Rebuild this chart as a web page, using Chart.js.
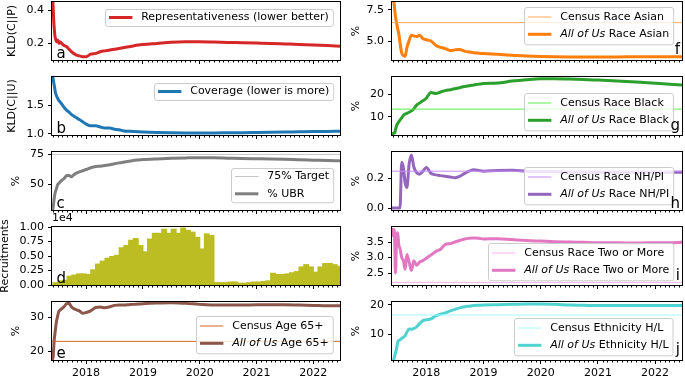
<!DOCTYPE html>
<html lang="en">
<head>
<meta charset="UTF-8">
<title>All of Us recruitment panels</title>
<script src="https://cdn.jsdelivr.net/npm/chart.js"></script>
<style>
    body {
        margin: 0;
        width: 685px;
        height: 380px;
        overflow: hidden;
        background: #ffffff;
        position: relative;
    }
    canvas {
        position: absolute;
    }
</style>
</head>
<body>
<script>
// time grid (decimal years), denser at the start where the curves are noisy
const t = [2017.40, 2017.41, 2017.42, 2017.43, 2017.44, 2017.45, 2017.46, 2017.48, 2017.50, 2017.52,
    2017.54, 2017.57, 2017.60, 2017.63, 2017.66, 2017.70, 2017.74, 2017.78, 2017.83, 2017.88,
    2017.94, 2018.00, 2018.08, 2018.17, 2018.25, 2018.33, 2018.42, 2018.50, 2018.58, 2018.67,
    2018.75, 2018.83, 2018.92, 2019.00, 2019.25, 2019.50, 2019.75, 2020.00, 2020.25, 2020.50,
    2020.75, 2021.00, 2021.25, 2021.50, 2021.75, 2022.00, 2022.25, 2022.47];
const xMin = 2017.40;
const xMax = 2022.47;
const yearTicks = [2018, 2019, 2020, 2021, 2022];

const kldP = [0.60, 0.50, 0.42, 0.34, 0.29, 0.25, 0.23, 0.21, 0.22, 0.20, 0.21, 0.20, 0.19, 0.185, 0.18,
    0.165, 0.15, 0.14, 0.13, 0.125, 0.12, 0.12, 0.135, 0.14, 0.15, 0.155, 0.16, 0.165, 0.17, 0.175,
    0.18, 0.185, 0.19, 0.193, 0.20, 0.207, 0.21, 0.21, 0.208, 0.206, 0.204, 0.202, 0.20, 0.197,
    0.194, 0.19, 0.187, 0.183];
const kldU = [2.10, 2.03, 1.97, 1.90, 1.84, 1.78, 1.72, 1.66, 1.62, 1.58, 1.56, 1.52, 1.48, 1.44, 1.41,
    1.38, 1.34, 1.31, 1.28, 1.25, 1.21, 1.17, 1.14, 1.14, 1.12, 1.10, 1.10, 1.08, 1.07, 1.05,
    1.045, 1.04, 1.035, 1.032, 1.025, 1.02, 1.017, 1.015, 1.016, 1.018, 1.02, 1.024, 1.028, 1.032,
    1.036, 1.04, 1.043, 1.046];
const ubr = [27, 29, 31, 35, 39, 42, 44, 47, 50, 51, 52, 53.5, 54.5, 56, 57.5, 57.5, 56.5, 58, 59.5,
    60.5, 61.5, 62.5, 64, 65, 65.2, 65.8, 66.5, 67.3, 68, 68.7, 69.3, 70, 70.4, 70.7, 71.3, 71.8,
    72.1, 72.3, 72.2, 71.9, 71.6, 71.4, 71.2, 70.9, 70.5, 70.2, 69.9, 69.7];
const age65 = [17, 17.8, 18.5, 21, 23.5, 25, 26.5, 29, 30.5, 31.8, 32.2, 32.6, 33, 33.6, 34.1, 34.2,
    33.2, 32.7, 32.3, 32, 31.3, 31.5, 32, 33, 33.1, 32.9, 33.2, 33.6, 33.7, 33.7, 33.8, 33.9, 34,
    34.1, 34.3, 34.4, 34.2, 33.9, 33.7, 33.7, 33.7, 33.8, 33.8, 33.8, 33.7, 33.6, 33.5, 33.5];
const asian = [9.5, 9.0, 8.6, 8.2, 7.9, 7.4, 7.0, 6.5, 6.0, 5.6, 4.9, 4.1, 3.9, 3.85, 4.5, 5.1, 5.5,
    5.45, 5.4, 5.5, 5.25, 5.15, 5.05, 4.7, 4.55, 4.45, 4.3, 4.35, 4.38, 4.25, 4.18, 4.13, 4.09,
    4.06, 4.0, 3.93, 3.86, 3.82, 3.8, 3.79, 3.79, 3.79, 3.79, 3.8, 3.8, 3.81, 3.81, 3.81];
const black = [1.5, 2.0, 2.5, 2.6, 2.7, 2.9, 4.0, 6.0, 7.0, 7.8, 8.5, 9.5, 10.6, 11.2, 11.5, 12.0,
    12.6, 13.5, 15.2, 16.1, 17.2, 18.3, 20.9, 20.4, 21.1, 21.7, 22.1, 22.5, 23.0, 23.5, 23.9, 24.2,
    24.6, 24.9, 25.1, 26.0, 26.6, 27.0, 27.0, 26.9, 26.7, 26.4, 26.1, 25.8, 25.4, 25.0, 24.6, 24.2];
const nhpi = [0, 0, 0, 0, 0, 0, 0, 0, 0, 0, 0, 0.31, 0.27, 0.17, 0.14, 0.30, 0.36, 0.28, 0.24, 0.23,
    0.25, 0.275, 0.236, 0.225, 0.22, 0.215, 0.21, 0.205, 0.215, 0.235, 0.25, 0.26, 0.255, 0.25,
    0.255, 0.256, 0.25, 0.248, 0.246, 0.245, 0.244, 0.243, 0.243, 0.242, 0.242, 0.242, 0.242, 0.242];
const twoMore = [3.95, 3.9, 3.7, 3.85, 3.9, 3.3, 2.5, 3.6, 3.8, 3.4, 3.3, 3.0, 2.9, 2.62, 3.1, 2.85,
    2.58, 2.9, 2.75, 2.85, 2.9, 2.98, 3.08, 3.2, 3.27, 3.42, 3.45, 3.5, 3.55, 3.6, 3.62, 3.63, 3.62,
    3.6, 3.61, 3.58, 3.55, 3.53, 3.51, 3.5, 3.49, 3.48, 3.48, 3.47, 3.47, 3.48, 3.48, 3.49];
const hispanic = [0.5, 0.8, 1.2, 1.5, 2.2, 3.0, 3.9, 5.2, 7.4, 8.0, 8.2, 8.7, 9.1, 9.6, 10.8, 11.9,
    11.8, 12.0, 12.6, 13.6, 14.7, 15.0, 15.3, 16.4, 16.9, 17.3, 18.0, 18.5, 19.0, 19.4, 19.6, 19.8,
    19.9, 20.0, 20.1, 20.2, 20.3, 20.3, 20.2, 20.0, 19.9, 19.8, 19.8, 19.8, 19.8, 19.8, 19.8, 19.8];

// reference levels
const ubrTarget = 75;
const censusAge65 = 23;
const censusAsian = 6.5;
const censusBlack = 13.4;
const censusNhpi = 0.25;
const censusTwoMore = 2.2;
const censusHispanic = 16.6;

// monthly recruitments
const months = [
    '2017-06', '2017-07', '2017-08', '2017-09', '2017-10', '2017-11', '2017-12',
    '2018-01', '2018-02', '2018-03', '2018-04', '2018-05', '2018-06', '2018-07', '2018-08', '2018-09', '2018-10', '2018-11', '2018-12',
    '2019-01', '2019-02', '2019-03', '2019-04', '2019-05', '2019-06', '2019-07', '2019-08', '2019-09', '2019-10', '2019-11', '2019-12',
    '2020-01', '2020-02', '2020-03', '2020-04', '2020-05', '2020-06', '2020-07', '2020-08', '2020-09', '2020-10', '2020-11', '2020-12',
    '2021-01', '2021-02', '2021-03', '2021-04', '2021-05', '2021-06', '2021-07', '2021-08', '2021-09', '2021-10', '2021-11', '2021-12',
    '2022-01', '2022-02', '2022-03', '2022-04', '2022-05', '2022-06'];
const recruits = [400, 700, 800, 1500, 1700, 1900, 1900, 1800, 2600, 3600, 4100, 4600, 4900, 5100,
    6400, 6800, 7700, 8000, 6800, 5700, 7900, 8900, 8900, 9600, 8900, 9600, 8900, 9800, 9400, 9100,
    8200, 6200, 8800, 8500, 400, 400, 400, 500, 500, 300, 300, 400, 500, 500, 600, 700, 2000, 1800,
    1800, 1900, 2100, 2300, 3100, 3500, 3100, 2200, 3100, 3700, 3700, 3500, 3200];

Chart.defaults.font.family = '"DejaVu Sans", sans-serif';
Chart.defaults.font.size = 11;
Chart.defaults.color = '#000';

function monthToYear(m) {
    const [y, mo] = m.split('-').map(Number);
    return y + (mo - 0.5) / 12;
}

function series(label, ys, color, width) {
    return {
        label: label,
        data: t.map((x, i) => ({ x: x, y: ys[i] })),
        borderColor: color,
        borderWidth: width,
        pointRadius: 0,
        cubicInterpolationMode: 'monotone',
        fill: false,
        clip: 0
    };
}

// horizontal reference line across the whole axis
function level(label, y, color) {
    return {
        label: label,
        data: [{ x: xMin, y: y }, { x: xMax, y: y }],
        borderColor: color,
        borderWidth: 1,
        pointRadius: 0,
        fill: false,
        clip: 0
    };
}

// frame, monthly minor ticks, panel letter, offset text and a matplotlib-like legend
const decor = {
    id: 'decor',
    afterDatasetsDraw(chart, args, o) {
        const ctx = chart.ctx;
        const a = chart.chartArea;
        const xs = chart.scales.x;
        ctx.save();
        ctx.strokeStyle = '#000';
        ctx.lineWidth = 1;
        ctx.beginPath();
        for (let m = Math.ceil(xs.min * 12); m <= Math.floor(xs.max * 12); m++) {
            if (m % 12 === 0) continue;
            const px = Math.round(xs.getPixelForValue(m / 12)) + 0.5;
            ctx.moveTo(px, a.bottom);
            ctx.lineTo(px, a.bottom + 2.5);
        }
        ctx.stroke();
        ctx.strokeRect(Math.round(a.left) - 0.5, Math.round(a.top) - 0.5,
            Math.round(a.right - a.left) + 1, Math.round(a.bottom - a.top) + 1);

        ctx.fillStyle = '#000';
        if (o.offsetText) {
            ctx.font = '11px "DejaVu Sans"';
            ctx.textAlign = 'left';
            ctx.textBaseline = 'alphabetic';
            ctx.fillText(o.offsetText, a.left, a.top - 6);
        }

        if (o.legend) {
            const items = chart.data.datasets.filter(d => d.label);
            const base = '11px "DejaVu Sans"';
            const ital = 'italic 11px "DejaVu Sans"';
            const parts = items.map(d => d.label.startsWith('All of Us')
                ? [['All of Us', ital], [d.label.slice(9), base]]
                : [[d.label, base]]);
            const widths = parts.map(ps => ps.reduce((w, p) => {
                ctx.font = p[1];
                return w + ctx.measureText(p[0]).width;
            }, 0));
            const edge = parts.some(ps => ps.length > 1) ? 10 : 8.5;
            const rowGap = 17.3;
            const w = 4 + 23.4 + 8.8 + Math.max(...widths) + 4;
            const h = 2 * edge + (items.length - 1) * rowGap;
            const x0 = Math.round(a.right - o.legend.right - w);
            const y0 = Math.round(o.legend.side === 'top' ? a.top + o.legend.inset : a.bottom - o.legend.inset - h);
            ctx.beginPath();
            ctx.roundRect(x0 + 0.5, y0 + 0.5, w, h, 2.5);
            ctx.fillStyle = 'rgba(255,255,255,0.8)';
            ctx.fill();
            ctx.strokeStyle = '#cccccc';
            ctx.lineWidth = 1;
            ctx.stroke();
            items.forEach((d, i) => {
                const cy = y0 + edge + i * rowGap;
                ctx.beginPath();
                ctx.moveTo(x0 + 4, cy);
                ctx.lineTo(x0 + 27.4, cy);
                ctx.strokeStyle = d.borderColor;
                ctx.lineWidth = d.borderWidth;
                ctx.stroke();
                let tx = x0 + 36.2;
                ctx.fillStyle = '#000';
                ctx.textAlign = 'left';
                ctx.textBaseline = 'middle';
                parts[i].forEach(p => {
                    ctx.font = p[1];
                    ctx.fillText(p[0], tx, cy);
                    tx += ctx.measureText(p[0]).width;
                });
            });
        }

        if (o.letter) {
            ctx.font = '15px "DejaVu Sans"';
            ctx.fillStyle = '#000';
            ctx.textBaseline = 'alphabetic';
            if (o.letterSide === 'right') {
                ctx.textAlign = 'right';
                ctx.fillText(o.letter, a.right - 2, a.bottom - o.letterDy);
            } else {
                ctx.textAlign = 'left';
                ctx.fillText(o.letter, a.left + 4.5, a.bottom - 1.7);
            }
        }
        ctx.restore();
    }
};

const panels = [
    { row: 0, col: 0, letter: 'a', yTitle: 'KLD(C||P)', titlePad: 7, yMin: 0.1, yMax: 0.45, yTicks: [0.2, 0.4], dec: 1,
      datasets: [series('Representativeness (lower better)', kldP, '#d62728', 3)],
      legend: { side: 'top', inset: 7 } },
    { row: 1, col: 0, letter: 'b', yTitle: 'KLD(C||U)', titlePad: 7, yMin: 0.98, yMax: 1.99, yTicks: [1.0, 1.5], dec: 1,
      datasets: [series('Coverage (lower is more)', kldU, '#1f77b4', 3)],
      legend: { side: 'top', inset: 6 } },
    { row: 2, col: 0, letter: 'c', yTitle: '%', titlePad: 10.5, yMin: 29, yMax: 77, yTicks: [50, 75], dec: 0,
      datasets: [level('75% Target', ubrTarget, '#c4c4c4'), series('% UBR', ubr, '#7f7f7f', 3)],
      legend: { side: 'bottom', inset: 8 } },
    { row: 3, col: 0, letter: 'd', yTitle: 'Recruitments', titlePad: -0.5, yMin: 0, yMax: 10000,
      yTicks: [0, 2500, 5000, 7500, 10000], fmt: v => (v / 1e4).toFixed(2), offsetText: '1e4', type: 'bar',
      datasets: [{
          data: months.map((m, i) => ({ x: monthToYear(m), y: recruits[i] })),
          backgroundColor: '#bcbd22',
          borderWidth: 0,
          barPercentage: 1,
          categoryPercentage: 1,
          inflateAmount: 0.6,
          clip: 0
      }] },
    { row: 4, col: 0, letter: 'e', yTitle: '%', titlePad: 10.5, yMin: 17.5, yMax: 34.6, yTicks: [20, 30], dec: 0,
      datasets: [level('Census Age 65+', censusAge65, '#d2691e'), series('All of Us Age 65+', age65, '#8c564b', 3)],
      legend: { side: 'bottom', inset: 6.7 } },
    { row: 0, col: 1, letter: 'f', letterDy: 5.7, yTitle: '%', titlePad: 8.5, yMin: 3.55, yMax: 8.13, yTicks: [5.0, 7.5], dec: 1,
      datasets: [level('Census Race Asian', censusAsian, '#ffa552'), series('All of Us Race Asian', asian, '#ff7f0e', 3)],
      legend: { side: 'top', inset: 5 } },
    { row: 1, col: 1, letter: 'g', letterDy: 5.5, yTitle: '%', titlePad: 8.5, yMin: 1.8, yMax: 27.8, yTicks: [10, 20], dec: 0,
      datasets: [level('Census Race Black', censusBlack, '#5cee4c'), series('All of Us Race Black', black, '#2ca02c', 3)],
      legend: { side: 'bottom', inset: 5 } },
    { row: 2, col: 1, letter: 'h', letterDy: 1.7, yTitle: '%', titlePad: 8.5, yMin: -0.013, yMax: 0.38, yTicks: [0, 0.2], dec: 1,
      datasets: [level('Census Race NH/PI', censusNhpi, '#c98cff'), series('All of Us Race NH/PI', nhpi, '#9467bd', 3)],
      legend: { side: 'bottom', inset: 6 } },
    { row: 3, col: 1, letter: 'i', letterDy: 5, yTitle: '%', titlePad: 8.5, yMin: 2.115, yMax: 3.985, yTicks: [2.5, 3.0, 3.5], dec: 1,
      datasets: [level('Census Race Two or More', censusTwoMore, '#ffb3f5'), series('All of Us Race Two or More', twoMore, '#e377c2', 3)],
      legend: { side: 'bottom', inset: 5 } },
    { row: 4, col: 1, letter: 'j', letterDy: 6.5, yTitle: '%', titlePad: 8.5, yMin: 1.4, yMax: 21, yTicks: [10, 20], dec: 0,
      datasets: [level('Census Ethnicity H/L', censusHispanic, '#a6fafa'), series('All of Us Ethnicity H/L', hispanic, '#4fd2d0', 3)],
      legend: { side: 'bottom', inset: 5 } }
];

panels.forEach(p => {
    const left = p.col ? 342 : 0;
    const width = p.col ? 343 : 344;
    const yWidth = p.col ? 50 : 52;
    const plotTop = 2 + 75 * p.row;
    const below = p.row === 4 ? 20 : 14;
    const canvas = document.createElement('canvas');
    canvas.width = width;
    canvas.height = 14 + 58 + below;
    canvas.style.left = left + 'px';
    canvas.style.top = (plotTop - 14) + 'px';
    canvas.style.width = width + 'px';
    canvas.style.height = canvas.height + 'px';
    document.body.appendChild(canvas);

    const tickGrid = { display: true, drawOnChartArea: false, drawTicks: true, tickLength: 4, color: '#000', lineWidth: 1, offset: false };

    new Chart(canvas, {
        type: p.type || 'line',
        data: { datasets: p.datasets },
        options: {
            responsive: false,
            animation: false,
            events: [],
            layout: { autoPadding: false, padding: { top: 14, right: p.col ? 3 : 4, bottom: 0, left: 0 } },
            plugins: {
                legend: { display: false },
                tooltip: { enabled: false },
                decor: {
                    letter: p.letter,
                    letterSide: p.col ? 'right' : 'left',
                    letterDy: p.letterDy || 0,
                    offsetText: p.offsetText || null,
                    legend: p.legend ? { side: p.legend.side, inset: p.legend.inset, right: p.col ? 9 : 7 } : null
                }
            },
            scales: {
                x: {
                    type: 'linear',
                    min: xMin,
                    max: xMax,
                    bounds: 'data',
                    offset: false,
                    afterFit: s => { s.height = below; },
                    afterBuildTicks: s => { s.ticks = yearTicks.map(v => ({ value: v })); },
                    grid: tickGrid,
                    border: { display: false },
                    ticks: {
                        display: p.row === 4,
                        autoSkip: false,
                        maxRotation: 0,
                        padding: 3,
                        callback: v => String(v)
                    }
                },
                y: {
                    type: 'linear',
                    min: p.yMin,
                    max: p.yMax,
                    bounds: 'data',
                    afterFit: s => { s.width = yWidth; },
                    afterBuildTicks: s => { s.ticks = p.yTicks.map(v => ({ value: v })); },
                    grid: tickGrid,
                    border: { display: false },
                    ticks: {
                        autoSkip: false,
                        padding: 4,
                        callback: p.fmt || (v => v.toFixed(p.dec))
                    },
                    title: {
                        display: true,
                        text: p.yTitle,
                        font: { size: 11, lineHeight: 1 },
                        padding: { top: p.titlePad, bottom: 0 }
                    }
                }
            }
        },
        plugins: [decor]
    });
});
</script>
</body>
</html>
